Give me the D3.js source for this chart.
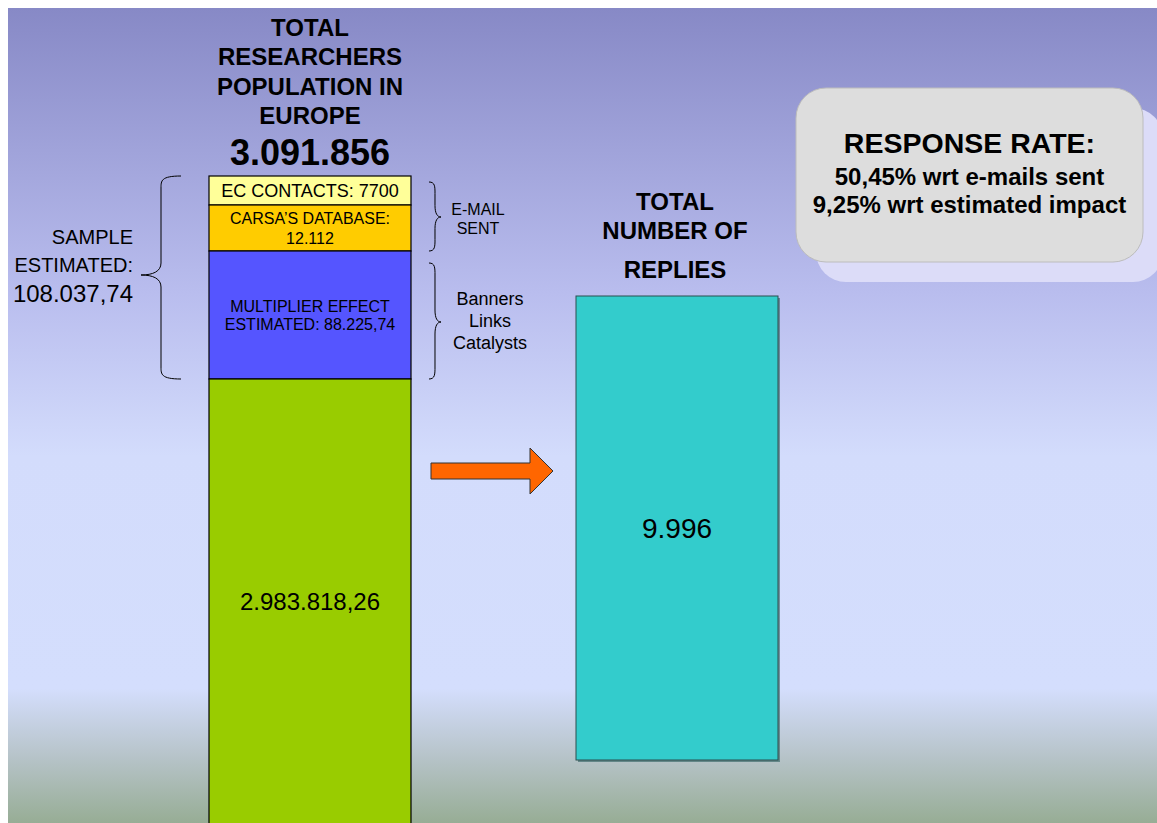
<!DOCTYPE html>
<html>
<head>
<meta charset="utf-8">
<script src="https://cdn.jsdelivr.net/npm/d3@7"></script>
<style>
    body { margin: 0; background: #fff; }
    text { font-family: "Liberation Sans", Arial, sans-serif; fill: #000; }
</style>
</head>
<body>
<script>
// data
var segmentNames = ["EC CONTACTS", "CARSA'S DATABASE", "MULTIPLIER EFFECT", "REST OF POPULATION"];
var segmentValues = [7700, 12112, 88225.74, 2983818.26];
var segmentLabels = [["EC CONTACTS: 7700"], ["CARSA\u2019S DATABASE:", "12.112"], ["MULTIPLIER EFFECT", "ESTIMATED: 88.225,74"], ["2.983.818,26"]];
var totalLabel = ["TOTAL", "RESEARCHERS", "POPULATION IN", "EUROPE"];
var totalValue = "3.091.856";
var sampleLabel = ["SAMPLE", "ESTIMATED:", "108.037,74"];
var emailLabel = ["E-MAIL", "SENT"];
var channelLabel = ["Banners", "Links", "Catalysts"];
var repliesTitle = ["TOTAL", "NUMBER OF", "REPLIES"];
var repliesValue = 9996;
var repliesLabel = "9.996";
var rateTitle = "RESPONSE RATE:";
var rateLines = ["50,45% wrt e-mails sent", "9,25% wrt estimated impact"];

var width = 1157, height = 823;
var colors = ["#ffff99", "#ffcc00", "#5555ff", "#99cc00"];

var svg = d3.select("body")
    .append("svg")
    .attr("width", width)
    .attr("height", height);

// background
var defs = svg.append("defs");
var grad = defs.append("linearGradient")
    .attr("id", "bg")
    .attr("x1", 0).attr("y1", 0).attr("x2", 0).attr("y2", 1);
[[0, "#8789c6"], [0.35, "#b9bdee"], [0.55, "#d3dcfc"], [0.835, "#d4defd"], [0.92, "#b6c3c8"], [1, "#97ad95"]]
    .forEach(function (s) {
        grad.append("stop").attr("offset", s[0]).attr("stop-color", s[1]);
    });
svg.append("rect")
    .attr("x", 8).attr("y", 8)
    .attr("width", width - 8).attr("height", height - 8)
    .attr("fill", "url(#bg)");

// cumulative stack
var cum = [0];
segmentValues.forEach(function (v, i) { cum.push(cum[i] + v); });
var stack = segmentValues.map(function (v, i) {
    return {name: segmentNames[i], value: v, y0: cum[i], y1: cum[i + 1], label: segmentLabels[i], color: colors[i]};
});

// piecewise scale, the picture is not drawn to proportion
var y = d3.scaleLinear()
    .domain(cum)
    .range([176, 205, 251, 379, 840]);

var xBars = d3.scaleBand()
    .domain(["population", "replies"])
    .range([209, 778])
    .paddingInner(0.4496)
    .paddingOuter(0);

var yReplies = d3.scaleLinear()
    .domain([0, repliesValue])
    .range([760, 296]);

var left = svg.append("g");
left.selectAll("rect")
    .data(stack)
    .enter().append("rect")
    .attr("x", xBars("population"))
    .attr("width", xBars.bandwidth())
    .attr("y", function (d) { return y(d.y0); })
    .attr("height", function (d) { return y(d.y1) - y(d.y0); })
    .style("fill", function (d) { return d.color; })
    .style("stroke", "#000")
    .style("stroke-width", 1.2);

var cx = xBars("population") + xBars.bandwidth() / 2;
var segFont = [18, 16, 16, 24];
var segLine = [20, 20, 18.5, 24];
left.selectAll("text.seg")
    .data(stack)
    .enter().append("text")
    .attr("class", "seg")
    .attr("text-anchor", "middle")
    .style("font-size", function (d, i) { return segFont[i] + "px"; })
    .each(function (d, i) {
        var top = y(d.y0), bottom = Math.min(y(d.y1), height);
        var mid = (top + bottom) / 2;
        var n = d.label.length;
        d3.select(this).selectAll("tspan")
            .data(d.label)
            .enter().append("tspan")
            .attr("x", cx)
            .attr("y", function (t, j) { return mid + (j - (n - 1) / 2) * segLine[i] + segFont[i] * 0.36; })
            .text(function (t) { return t; });
    });

// titles
svg.append("text")
    .attr("text-anchor", "middle")
    .style("font-size", "24px").style("font-weight", "bold")
    .selectAll("tspan")
    .data(totalLabel)
    .enter().append("tspan")
    .attr("x", cx)
    .attr("y", function (d, i) { return 36 + i * 29.4; })
    .text(function (d) { return d; });

svg.append("text")
    .attr("x", cx).attr("y", 165)
    .attr("text-anchor", "middle")
    .style("font-size", "36px").style("font-weight", "bold")
    .text(totalValue);

// braces
function brace(x0, x1, ya, yb, ytip) {
    var s = x0 + (x1 - x0) * 0.5, r = Math.min(12, (yb - ya) / 6);
    var dir = x1 > x0 ? 1 : -1;
    return "M" + x0 + "," + ya +
        "C" + (s) + "," + ya + " " + s + "," + (ya + r * 0.4) + " " + s + "," + (ya + r) +
        "L" + s + "," + (ytip - r) +
        "C" + s + "," + (ytip - r * 0.3) + " " + (s + dir * (Math.abs(x1 - s)) * 0.4) + "," + ytip + " " + x1 + "," + ytip +
        "C" + (s + dir * (Math.abs(x1 - s)) * 0.4) + "," + ytip + " " + s + "," + (ytip + r * 0.3) + " " + s + "," + (ytip + r) +
        "L" + s + "," + (yb - r) +
        "C" + s + "," + (yb - r * 0.4) + " " + s + "," + yb + " " + x0 + "," + yb;
}

var barLeft = xBars("population"), barRight = barLeft + xBars.bandwidth();
svg.append("path")
    .attr("d", brace(barLeft - 28, barLeft - 68, y(0), y(cum[3]), y(cum[3]) - 104))
    .style("fill", "none").style("stroke", "#000").style("stroke-width", 1);
svg.append("path")
    .attr("d", brace(barRight + 18, barRight + 30, y(0) + 6, y(cum[2]), y(cum[2]) - 34))
    .style("fill", "none").style("stroke", "#000").style("stroke-width", 1);
svg.append("path")
    .attr("d", brace(barRight + 18, barRight + 30, y(cum[2]) + 12, y(cum[3]), y(cum[3]) - 57))
    .style("fill", "none").style("stroke", "#000").style("stroke-width", 1);

svg.append("text")
    .attr("text-anchor", "end")
    .style("font-size", "20px")
    .selectAll("tspan")
    .data(sampleLabel)
    .enter().append("tspan")
    .attr("x", 133)
    .attr("y", function (d, i) { return [244, 272, 301.5][i]; })
    .style("font-size", function (d, i) { return i === 2 ? "24px" : "20px"; })
    .text(function (d) { return d; });

svg.append("text")
    .attr("text-anchor", "middle")
    .style("font-size", "16px")
    .selectAll("tspan")
    .data(emailLabel)
    .enter().append("tspan")
    .attr("x", 478)
    .attr("y", function (d, i) { return 215 + i * 19; })
    .text(function (d) { return d; });

svg.append("text")
    .attr("text-anchor", "middle")
    .style("font-size", "18px")
    .selectAll("tspan")
    .data(channelLabel)
    .enter().append("tspan")
    .attr("x", 490)
    .attr("y", function (d, i) { return 305 + i * 22.2; })
    .text(function (d) { return d; });

// arrow
var ax0 = barRight + 20, ax1 = xBars("replies") - 23, ay = 471;
svg.append("path")
    .attr("d", "M" + ax0 + "," + (ay - 8) + "L" + (ax1 - 23) + "," + (ay - 8) + "L" + (ax1 - 23) + "," + (ay - 23) +
        "L" + ax1 + "," + ay + "L" + (ax1 - 23) + "," + (ay + 23) + "L" + (ax1 - 23) + "," + (ay + 8) +
        "L" + ax0 + "," + (ay + 8) + "Z")
    .style("fill", "#ff6600").style("stroke", "#333").style("stroke-width", 1);

// replies bar
var rx = xBars("replies");
svg.append("rect")
    .attr("x", rx + 2).attr("y", yReplies(repliesValue) + 2)
    .attr("width", xBars.bandwidth()).attr("height", yReplies(0) - yReplies(repliesValue))
    .style("fill", "#2f5f5f").style("opacity", 0.6);
svg.append("rect")
    .attr("x", rx).attr("y", yReplies(repliesValue))
    .attr("width", xBars.bandwidth()).attr("height", yReplies(0) - yReplies(repliesValue))
    .style("fill", "#33cccc").style("stroke", "#2a4f4f").style("stroke-width", 1);
svg.append("text")
    .attr("x", rx + xBars.bandwidth() / 2)
    .attr("y", (yReplies(0) + yReplies(repliesValue)) / 2 + 10)
    .attr("text-anchor", "middle")
    .style("font-size", "28px")
    .text(repliesLabel);

svg.append("text")
    .attr("text-anchor", "middle")
    .style("font-size", "24px").style("font-weight", "bold")
    .selectAll("tspan")
    .data(repliesTitle)
    .enter().append("tspan")
    .attr("x", rx + xBars.bandwidth() / 2 - 2)
    .attr("y", function (d, i) { return [210, 239, 278][i]; })
    .text(function (d) { return d; });

// response rate box
svg.append("rect")
    .attr("x", 816).attr("y", 108).attr("width", 347).attr("height", 174).attr("rx", 30)
    .style("fill", "#dcdcf8");
svg.append("rect")
    .attr("x", 796).attr("y", 88).attr("width", 347).attr("height", 174).attr("rx", 30)
    .style("fill", "#dddddd").style("stroke", "#bcbcbc").style("stroke-width", 1);
svg.append("text")
    .attr("x", 969.5).attr("y", 153)
    .attr("text-anchor", "middle")
    .style("font-size", "28.5px").style("font-weight", "bold")
    .text(rateTitle);
svg.append("text")
    .attr("text-anchor", "middle")
    .style("font-size", "24px").style("font-weight", "bold")
    .selectAll("tspan")
    .data(rateLines)
    .enter().append("tspan")
    .attr("x", 969.5)
    .attr("y", function (d, i) { return 185 + i * 28; })
    .text(function (d) { return d; });
</script>
</body>
</html>
